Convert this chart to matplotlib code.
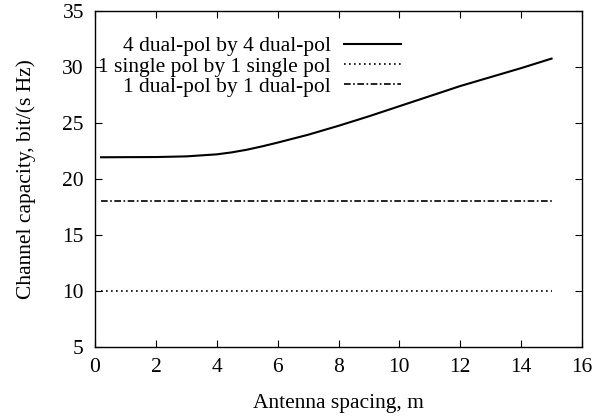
import matplotlib
matplotlib.use('Agg')
import matplotlib.pyplot as plt

# antenna spacing (m) and capacity (bit/(s Hz))
spacing = [0.2, 1, 2, 3, 4, 4.5, 5, 5.5, 6, 6.5, 7, 8, 9, 10, 11, 12, 13, 14, 15]
cap_4x4 = [21.94, 21.95, 21.96, 22.02, 22.2, 22.38, 22.62, 22.92, 23.25, 23.6,
           23.95, 24.75, 25.6, 26.5, 27.4, 28.3, 29.1, 29.9, 30.75]
cap_single = [10.0] * len(spacing)
cap_dual = [18.0] * len(spacing)

labels = ['4 dual-pol by 4 dual-pol',
          '1 single pol by 1 single pol',
          '1 dual-pol by 1 dual-pol']

plt.rcParams['font.family'] = ['Liberation Serif', 'DejaVu Serif']
plt.rcParams['font.size'] = 15.5

fig = plt.figure(figsize=(5.98, 4.19), dpi=100)
ax = fig.add_axes([95 / 598, 1 - 347 / 419, 487 / 598, 336 / 419])

ax.plot(spacing, cap_4x4, color='black', lw=1.5, label=labels[0])
ax.plot(spacing, cap_single, color='black', lw=1.2, linestyle=(0, (1, 2)), label=labels[1])
ax.plot(spacing, cap_dual, color='black', lw=1.2, linestyle=(0, (4, 1.5, 1, 1.5)), label=labels[2])

ax.set_xlim(0, 16)
ax.set_ylim(5, 35)
ax.set_xticks(range(0, 17, 2))
ax.set_yticks(range(5, 36, 5))
ax.tick_params(direction='in', top=True, right=True, length=5, width=0.8, pad=8)
for s in ax.spines.values():
    s.set_linewidth(1.0)

ax.set_xlabel('Antenna spacing, m', labelpad=12)
ax.set_ylabel('Channel capacity, bit/(s Hz)', labelpad=19)

ax.legend(loc='upper right', bbox_to_anchor=(0.646, 0.95), frameon=False,
          markerfirst=False, handlelength=2.65, labelspacing=0.0,
          handletextpad=0.6, borderaxespad=0.0)

fig.savefig('out.png', dpi=100)
